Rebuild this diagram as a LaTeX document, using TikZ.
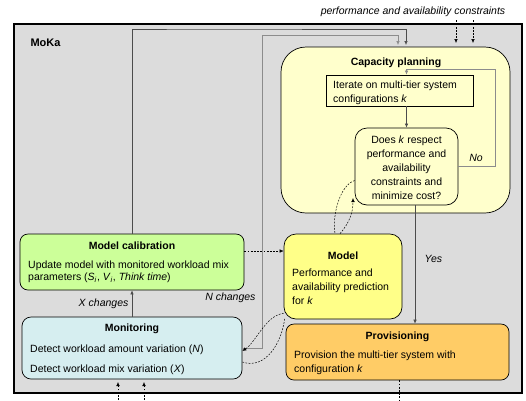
\documentclass[tikz,border=0pt]{standalone}
\usepackage{fontspec}
\setmainfont{Liberation Sans}
\usetikzlibrary{arrows.meta}
\definecolor{frameGray}{HTML}{DCDCDC}
\definecolor{capYellow}{HTML}{FFFFCC}
\definecolor{modelYellow}{HTML}{FFFF88}
\definecolor{calibGreen}{HTML}{CCFF99}
\definecolor{monitCyan}{HTML}{D6EEF0}
\definecolor{provOrange}{HTML}{FFCC66}

\begin{document}
\begin{tikzpicture}[
  x=1pt, y=-1pt,
  font=\fontsize{10.5}{14}\selectfont,
  box/.style={
    draw, line width=0.7pt,
    inner sep=0pt
  },
  title/.style={font=\fontsize{10.5}{14}\selectfont\bfseries},
  body/.style={anchor=north west, align=left, inner sep=0pt},
  flow/.style={draw=black!70, line width=0.6pt, -{Latex[length=4pt,width=3.5pt]}},
  back/.style={flow, draw=black!45},
  dashline/.style={dash pattern=on 1.8pt off 1.4pt, line width=0.5pt},
  msg/.style={dashline, -{Latex[length=4pt,width=3.5pt]}}
]
  \useasboundingbox (0,0) rectangle (526,400);

  % frame
  \node[box, line width=1.5pt, fill=frameGray, minimum width=508pt, minimum height=369pt] (moka) at (268,208.5){};
  \node[anchor=west, font=\fontsize{11}{13}\selectfont\bfseries] (mokaT) at (27,43){MoKa};

  % boxes
  \node[box, fill=capYellow, rounded corners=25pt, minimum width=229pt, minimum height=166pt] (cap) at (395.5,130){};
  \node[box, fill=capYellow, minimum width=147pt, minimum height=31pt] (iter) at (399.5,90.5){};
  \node[box, fill=capYellow, rounded corners=12pt, minimum width=103pt, minimum height=77pt] (dec) at (406.5,166.5){};
  \node[box, fill=modelYellow, rounded corners=12pt, minimum width=118pt, minimum height=85pt] (model) at (343,276.5){};
  \node[box, fill=calibGreen, rounded corners=8pt, minimum width=224pt, minimum height=56pt] (calib) at (132,262){};
  \node[box, fill=monitCyan, rounded corners=9pt, minimum width=220pt, minimum height=62pt] (monit) at (132,348){};
  \node[box, fill=provOrange, rounded corners=8pt, minimum width=223pt, minimum height=56pt] (prov) at (397.5,352){};

  % texts
  \node[title] (capT) at (396,63){Capacity planning};
  \node[body] (iterB) at (333,81){Iterate on multi-tier system\\configurations \textit{k}};
  \node[align=center, inner sep=0pt] (decB) at ([yshift=-1.5pt]dec.center){Does \textit{k} respect\\performance and\\availability\\constraints and\\minimize cost?};
  \node[title] (modelT) at (343,256){Model};
  \node[body] (modelB) at (292,269){Performance and\\availability prediction\\for \textit{k}};
  \node[title] (calibT) at (132,246){Model calibration};
  \node[body] (calibB) at (28,261){Update model with monitored workload mix\\[-2pt]parameters (\textit{S}\textsubscript{\textit{i}}, \textit{V}\textsubscript{\textit{i}}, \textit{Think time})};
  \node[title] (monitT) at (132,329){Monitoring};
  \node[body] (monitB) at (30,345){Detect workload amount variation (\textit{N})\\[6pt]Detect workload mix variation (\textit{X})};
  \node[title] (provT) at (397.5,337){Provisioning};
  \node[body] (provB) at (294,351){Provision the multi-tier system with\\configuration \textit{k}};
  \node (consT) at (413,12){\textit{performance and availability constraints}};

  % connectors
  \coordinate (capIn1) at (406,45);
  \coordinate (capIn2) at (398,45);
  \draw[flow] (monit.north) -- (calib.south) node[midway, left]{\textit{X changes}};
  \draw[flow] (calib.north) |- (200,29) -| (capIn1);
  \draw[back] (monit.east) -| (262,35) -| (capIn2);
  \node[anchor=east] (nLbl) at (259,298){\textit{N changes}};
  \draw[flow] (dec.north |- iter.south) -- (dec.north);
  \draw[back] (dec.east) -| (495,69) -| (dec.north |- iter.north);
  \node (noLbl) at (476,158){\textit{No}};
  \draw[flow] ([xshift=8.5pt]dec.south) coordinate (yesOut) -- (yesOut |- prov.north)
    node[pos=0.45, right, xshift=6pt]{\textit{Yes}};

  % messages
  \coordinate (calOut) at ([yshift=11pt]calib.east);
  \draw[msg] (calOut) -- (calOut -| model.west);
  \draw[dashline] ([yshift=-14pt]dec.west) .. controls (340,185) and (332,215) .. ([xshift=-8pt]model.north);
  \draw[msg] ([xshift=-3pt]model.north) .. controls (350,222) and (353,212) .. (353,198);
  \draw[msg] ([yshift=6pt]model.south west) .. controls (266,315) and (256,342) .. ([yshift=-3pt]monit.east);
  \draw[dashline] ([yshift=-14pt]monit.east) .. controls (266,370) and (282,342) .. ([xshift=1pt, yshift=1pt]model.south west);
  \foreach \x in {456,473} {
    \draw[msg] (consT.south -| \x,0) -- (\x,43);
  }
  \foreach \x in {118,144} {
    \draw[msg] (\x,400) -- (\x,382);
  }
  \draw[dashline] (prov.south -| 399,0) -- (399,400);
\end{tikzpicture}
\end{document}
